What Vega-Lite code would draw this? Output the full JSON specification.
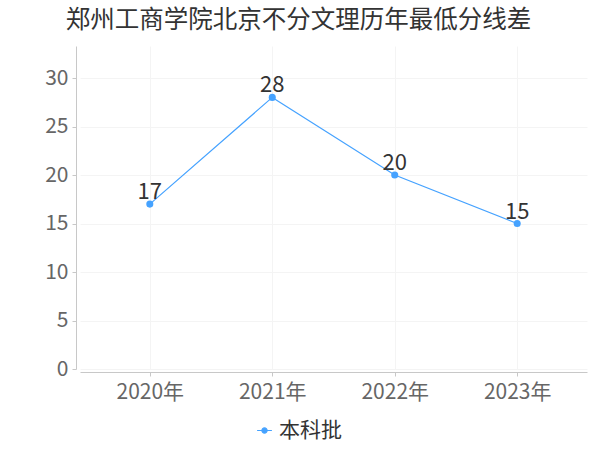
{
  "$schema": "https://vega.github.io/schema/vega-lite/v6.json",
  "width": 507,
  "height": 323,
  "autosize": {"type": "none"},
  "padding": {"left": 80, "top": 46, "right": 13, "bottom": 81},
  "background": "white",
  "config": {
    "view": {"stroke": null},
    "font": "Noto Sans CJK SC"
  },
  "title": {
    "text": "郑州工商学院北京不分文理历年最低分线差",
    "anchor": "start",
    "dx": 21,
    "offset": 13,
    "fontSize": 24.5,
    "fontWeight": "normal",
    "color": "#333333",
    "font": "Noto Sans CJK SC"
  },
  "data": {
    "values": [
      {"year": "2020年", "score": 17, "type": "本科批"},
      {"year": "2021年", "score": 28, "type": "本科批"},
      {"year": "2022年", "score": 20, "type": "本科批"},
      {"year": "2023年", "score": 15, "type": "本科批"}
    ]
  },
  "encoding": {
    "x": {
      "field": "year",
      "type": "ordinal",
      "scale": {"type": "point", "padding": 0.57},
      "axis": {
        "title": null,
        "labelAngle": 0,
        "labelFontSize": 21,
        "labelColor": "#666666",
        "labelPadding": 5,
        "domainColor": "#c8c8c8",
        "tickColor": "#c8c8c8",
        "tickSize": 4,
        "offset": 3,
        "grid": true,
        "gridColor": "#f4f4f4"
      }
    },
    "y": {
      "field": "score",
      "type": "quantitative",
      "scale": {"domain": [0, 33.3], "nice": false},
      "axis": {
        "title": null,
        "values": [0, 5, 10, 15, 20, 25, 30],
        "labelFontSize": 21,
        "labelColor": "#666666",
        "labelPadding": 4,
        "domainColor": "#c8c8c8",
        "tickColor": "#c8c8c8",
        "tickSize": 4,
        "offset": 4,
        "gridColor": "#f4f4f4"
      }
    }
  },
  "layer": [
    {
      "mark": {"type": "line", "strokeWidth": 1.2, "point": {"size": 50, "filled": true}},
      "encoding": {
        "color": {
          "field": "type",
          "type": "nominal",
          "scale": {"range": ["#45a2ff"]},
          "legend": {
            "title": null,
            "orient": "none",
            "legendX": 174,
            "legendY": 374,
            "symbolType": "M -1 0 L 1 0 M -0.35 0 A 0.35 0.35 0 1 1 0.35 0 A 0.35 0.35 0 1 1 -0.35 0 Z",
            "symbolSize": 220,
            "symbolStrokeWidth": 1.2,
            "symbolFillColor": "#45a2ff",
            "labelFontSize": 21,
            "labelColor": "#333333",
            "labelOffset": 4
          }
        }
      }
    },
    {
      "mark": {"type": "text", "baseline": "bottom", "dy": 0, "fontSize": 22, "color": "#333333"},
      "encoding": {"text": {"field": "score", "type": "quantitative"}}
    }
  ]
}
